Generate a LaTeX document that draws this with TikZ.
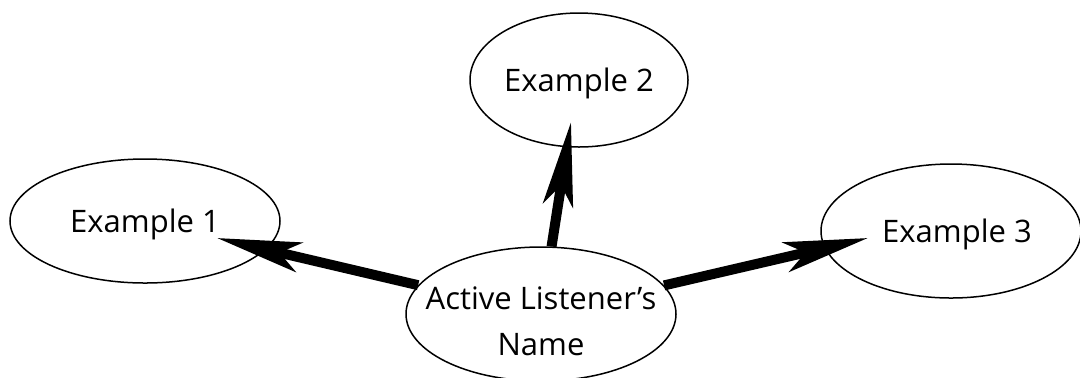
\documentclass[tikz,border=0pt]{standalone}
\usepackage{fontspec}
\setmainfont{Open Sans}
\usetikzlibrary{arrows.meta,shapes.geometric}
\begin{document}
\begin{tikzpicture}[x=0.5pt,y=-0.5pt,
  bubble/.style={draw=black, line width=0.75pt, ellipse, inner sep=0pt, align=center,
    font=\fontsize{15.5}{23}\selectfont},
  thickarrow/.style={line width=5pt, -{Stealth[length=42pt,width=15pt,inset=10pt]}}]
\useasboundingbox (0,0) rectangle (1080,377);
\clip (0,0) rectangle (1080,377);
\fill[white] (0,0) rectangle (1080,377);
\node[bubble, text depth=0pt, minimum width=135pt, minimum height=62pt] (e1) at (145,221) {Example 1};
\node[bubble, text depth=0pt, minimum width=109pt, minimum height=67pt] (e2) at (579,80) {Example 2};
\node[bubble, text depth=0pt, minimum width=130pt, minimum height=67pt] (e3) at (951,231) {\hspace*{6pt}Example 3};
\node[bubble, minimum width=135pt, minimum height=67pt] (c) at (541,314)
  {\rule{0pt}{19pt}\makebox[0pt]{Active Listener’s}\\\makebox[0pt]{Name}};
\coordinate (t1) at (217,238);
\coordinate (t2) at (571,122);
\coordinate (t3) at (868,238);
\draw[thickarrow] (c) -- (t1);
\draw[thickarrow] (c) -- (t2);
\draw[thickarrow] (c) -- (t3);
\end{tikzpicture}
\end{document}
